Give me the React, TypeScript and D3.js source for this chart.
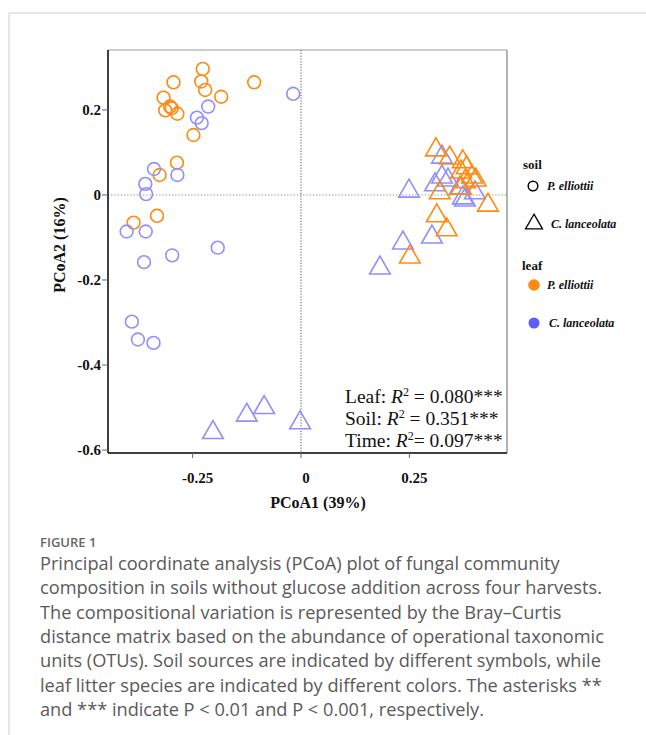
import React from "react";
import * as d3 from "d3";

// ---- data ----
// soil P. elliottii (circles), leaf P. elliottii (orange)
const circOrangeX = [-0.2265, -0.294, -0.230, -0.108, -0.221, -0.317, -0.184, -0.302, -0.313, -0.298, -0.285, -0.248, -0.286, -0.326, -0.332, -0.386];
const circOrangeY = [0.2965, 0.265, 0.267, 0.265, 0.247, 0.229, 0.231, 0.208, 0.199, 0.204, 0.191, 0.141, 0.076, 0.047, -0.049, -0.065];
// soil P. elliottii (circles), leaf C. lanceolata (blue)
const circBlueX = [-0.018, -0.214, -0.240, -0.229, -0.339, -0.285, -0.359, -0.357, -0.402, -0.358, -0.192, -0.297, -0.362, -0.390, -0.376, -0.340];
const circBlueY = [0.238, 0.208, 0.182, 0.169, 0.061, 0.047, 0.026, 0.002, -0.086, -0.086, -0.124, -0.142, -0.158, -0.298, -0.340, -0.348];
// soil C. lanceolata (triangles), leaf P. elliottii (orange)
const triOrangeX = [0.311, 0.343, 0.373, 0.382, 0.369, 0.394, 0.378, 0.369, 0.320, 0.431, 0.313, 0.336, 0.251, 0.403];
const triOrangeY = [0.106, 0.087, 0.078, 0.064, 0.054, 0.042, 0.031, 0.016, 0.005, -0.024, -0.049, -0.082, -0.146, 0.035];
// soil C. lanceolata (triangles), leaf C. lanceolata (blue)
const triBlueX = [0.325, 0.325, 0.309, 0.339, 0.366, 0.373, 0.401, 0.249, 0.302, 0.235, 0.182, 0.378, -0.203, -0.125, -0.085, -0.002];
const triBlueY = [0.089, 0.042, 0.024, 0.035, 0.016, -0.007, 0.005, 0.009, -0.099, -0.113, -0.172, -0.012, -0.559, -0.518, -0.500, -0.536];

const xTicks = [-0.25, 0, 0.25];
const xTickLabels = ["-0.25", "0", "0.25"];
const yTicks = [0.2, 0, -0.2, -0.4, -0.6];
const yTickLabels = ["0.2", "0", "-0.2", "-0.4", "-0.6"];

const statNames = ["Leaf", "Soil", "Time"];
const statValues = ["0.080", "0.351", "0.097"];
const statStars = ["***", "***", "***"];

const captionTitle = "FIGURE 1";
const captionLines = [
  "Principal coordinate analysis (PCoA) plot of fungal community",
  "composition in soils without glucose addition across four harvests.",
  "The compositional variation is represented by the Bray\u2013Curtis",
  "distance matrix based on the abundance of operational taxonomic",
  "units (OTUs). Soil sources are indicated by different symbols, while",
  "leaf litter species are indicated by different colors. The asterisks **",
  "and *** indicate P < 0.01 and P < 0.001, respectively.",
];

const ORANGE = "#ff8a10";
const BLUE = "#8f8fff";
const SERIF = "'Liberation Serif', 'Times New Roman', serif";
const SANS = "'Open Sans', 'Noto Sans', sans-serif";

export default function App() {
  const W = 646, H = 735;
  const left = 108, right = 507, top = 50, bottom = 453;
  const x = d3.scaleLinear().domain([-0.445, 0.475]).range([left, right]);
  const y = d3.scaleLinear().domain([0.341, -0.607]).range([top, bottom]);
  const tri = d3.symbol().type(d3.symbolTriangle).size(185)();
  const triLegend = d3.symbol().type(d3.symbolTriangle).size(125)();

  const circles = (xs: number[], ys: number[], color: string, key: string) =>
    xs.map((v, i) => (
      <circle key={key + i} cx={x(v)} cy={y(ys[i])} r={6.4} fill="none" stroke={color} strokeWidth={1.6} />
    ));
  const triangles = (xs: number[], ys: number[], color: string, key: string) =>
    xs.map((v, i) => (
      <path key={key + i} d={tri!} transform={`translate(${x(v)},${y(ys[i])})`} fill="none" stroke={color} strokeWidth={1.6} />
    ));

  return (
    <div style={{ position: "absolute", left: 0, top: 0 }}>
      <svg width={W} height={H} style={{ display: "block", background: "#fff" }}>
        {/* outer frame */}
        <line x1={9} y1={13} x2={W} y2={13} stroke="#cfcfcf" strokeWidth={1} />
        <line x1={9} y1={13} x2={9} y2={H} stroke="#cfcfcf" strokeWidth={1} />

        {/* plot box */}
        <line x1={left} y1={top} x2={right} y2={top} stroke="#9a9a9a" strokeWidth={1} />
        <line x1={right} y1={top} x2={right} y2={bottom} stroke="#9a9a9a" strokeWidth={1.5} />

        {/* reference dotted lines */}
        <line x1={left} x2={right} y1={y(0)} y2={y(0)} stroke="#8a8a8a" strokeWidth={1} strokeDasharray="1.2,2" />
        <line x1={x(0)} x2={x(0)} y1={top} y2={bottom} stroke="#555" strokeWidth={1} strokeDasharray="1.2,1.6" />

        {/* marks */}
        {circles(circOrangeX, circOrangeY, ORANGE, "co")}
        {circles(circBlueX, circBlueY, BLUE, "cb")}
        {triangles(triBlueX, triBlueY, BLUE, "tb")}
        {triangles(triOrangeX, triOrangeY, ORANGE, "to")}

        {/* axes */}
        <line x1={left} y1={top} x2={left} y2={bottom} stroke="#000" strokeWidth={1.5} />
        <line x1={left} y1={bottom} x2={right} y2={bottom} stroke="#000" strokeWidth={1.5} />
        {yTicks.map((t, i) => (
          <g key={"yt" + i}>
            <line x1={left - 6} x2={left} y1={y(t)} y2={y(t)} stroke="#666" strokeWidth={1} />
            <text x={left - 7} y={y(t) + 5} textAnchor="end" fontFamily={SERIF} fontWeight="bold" fontSize={15} fill="#111">
              {yTickLabels[i]}
            </text>
          </g>
        ))}
        {xTicks.map((t, i) => (
          <g key={"xt" + i}>
            <line x1={x(t)} x2={x(t)} y1={bottom} y2={bottom + 5} stroke="#666" strokeWidth={1} />
            <text x={x(t) + 5} y={bottom + 30} textAnchor="middle" fontFamily={SERIF} fontWeight="bold" fontSize={15} fill="#111">
              {xTickLabels[i]}
            </text>
          </g>
        ))}
        <text x={318} y={508} textAnchor="middle" fontFamily={SERIF} fontWeight="bold" fontSize={16} fill="#111">
          PCoA1 (39%)
        </text>
        <text transform={`translate(65,245) rotate(-90)`} textAnchor="middle" fontFamily={SERIF} fontWeight="bold" fontSize={16} fill="#111">
          PCoA2 (16%)
        </text>

        {/* statistics */}
        {statNames.map((n, i) => (
          <text key={"st" + i} x={345} y={403 + i * 22} fontFamily={SERIF} fontSize={19.5} fill="#111">
            {n}: <tspan fontStyle="italic">R</tspan>
            <tspan fontSize={12} dy={-7}>2</tspan>
            <tspan dy={7}>{i === 2 ? "= " : " = "}{statValues[i]}{statStars[i]}</tspan>
          </text>
        ))}

        {/* legend */}
        <text x={523} y={169} fontFamily={SERIF} fontWeight="bold" fontSize={13} fill="#111">soil</text>
        <circle cx={533} cy={186} r={4.8} fill="none" stroke="#000" strokeWidth={1.5} />
        <text x={547} y={190} fontFamily={SERIF} fontWeight="bold" fontStyle="italic" fontSize={12} fill="#111">P. elliottii</text>
        <path d={triLegend!} transform="translate(534,224)" fill="none" stroke="#000" strokeWidth={1.3} />
        <text x={551} y={228} fontFamily={SERIF} fontWeight="bold" fontStyle="italic" fontSize={12} fill="#111">C. lanceolata</text>
        <text x={522} y={270} fontFamily={SERIF} fontWeight="bold" fontSize={13} fill="#111">leaf</text>
        <circle cx={534} cy={285} r={5.8} fill={ORANGE} />
        <text x={547} y={289} fontFamily={SERIF} fontWeight="bold" fontStyle="italic" fontSize={12} fill="#111">P. elliottii</text>
        <circle cx={534} cy={323} r={5.5} fill="#5c5cff" />
        <text x={549} y={327} fontFamily={SERIF} fontWeight="bold" fontStyle="italic" fontSize={12} fill="#111">C. lanceolata</text>

        {/* caption */}
        <text x={40} y={547} fontFamily={SANS} fontSize={13} fontWeight={600} fill="#666">{captionTitle}</text>
        {captionLines.map((l, i) => (
          <text key={"cl" + i} x={40} y={570 + i * 24.3} fontFamily={SANS} fontSize={18.2} fill="#5a5a5a">{l}</text>
        ))}
      </svg>
    </div>
  );
}
